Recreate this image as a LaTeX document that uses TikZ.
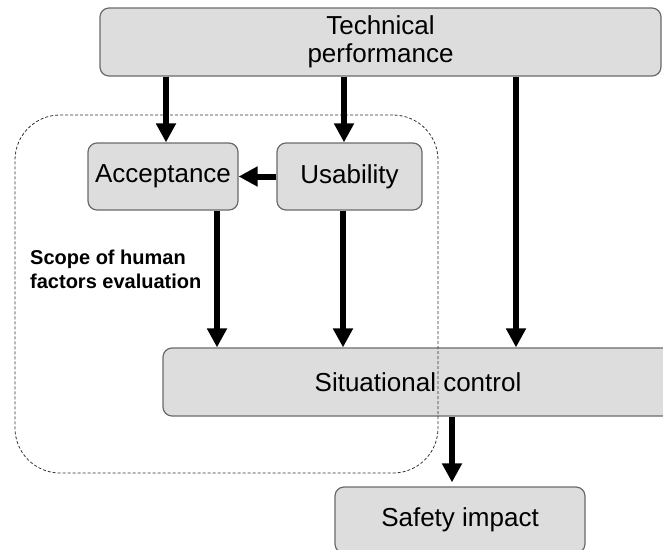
\documentclass[tikz,border=0pt]{standalone}
\usepackage{fontspec}
\setmainfont{Liberation Sans}
\usepackage{tikz}
\usetikzlibrary{arrows.meta}
\definecolor{boxfill}{HTML}{DDDDDD}
\definecolor{boxline}{HTML}{6A6A6A}

\begin{document}
\begin{tikzpicture}[x=1pt,y=1pt,yscale=-1,xscale=1,
    box/.style={draw=boxline, line width=1.2pt, fill=boxfill, rounded corners=9pt, inner sep=0pt, font=\fontsize{26}{28}\selectfont, align=center},
    flow/.style={line width=6pt, -{Triangle[length=19pt,width=19pt]}}]
    \useasboundingbox (0,0) rectangle (663,549);

    %Shape: Rounded Rect [id:tech]
    \node [box, minimum width=561, minimum height=68] (tech) at (380.5,42) {Technical\\performance};
    %Shape: Rounded Rect [id:acc]
    \node [box, minimum width=150, minimum height=67] (acc) at (163,176.5) {Acceptance};
    %Shape: Rounded Rect [id:usa]
    \node [box, minimum width=145, minimum height=67] (usa) at (349.5,176.5) {Usability};
    %Shape: Rounded Rect [id:sit]
    \node [box, minimum width=510, minimum height=68] (sit) at (418,382) {Situational control};
    %Shape: Rounded Rect [id:safe]
    \node [box, minimum width=250, minimum height=66] (safe) at (460,520) {Safety impact};

    %Shape: Rounded Rect [id:scope]
    \node [draw=black!80, line width=0.8pt, dash pattern=on 3pt off 2pt, rounded corners=45pt, minimum width=423, minimum height=358, inner sep=0pt] (scope) at (226.5,294) {};
    % Text Node
    \node [anchor=base west, inner sep=0pt, align=left, font=\fontsize{20}{24}\selectfont\bfseries] (scopelabel) at (30,288) {Scope of human\\factors evaluation};

    %Straight Lines [id:arrows]
    \draw [flow] ([xshift=3pt]acc.north |- tech.south) -- ([xshift=3pt]acc.north);
    \draw [flow] ([xshift=-5.5pt]usa.north |- tech.south) -- ([xshift=-5.5pt]usa.north);
    \draw [flow] ([xshift=135.5pt]tech.south) -- ([xshift=135.5pt]tech.south |- sit.north);
    \draw [flow] (usa.west) -- (acc.east);
    \draw [flow] ([xshift=54pt]acc.south) -- ([xshift=54pt]acc.south |- sit.north);
    \draw [flow] ([xshift=-6.5pt]usa.south) -- ([xshift=-6.5pt]usa.south |- sit.north);
    \draw [flow, shorten >=4pt] ([xshift=34pt]sit.south) -- ([xshift=34pt]sit.south |- safe.north);
\end{tikzpicture}
\end{document}
